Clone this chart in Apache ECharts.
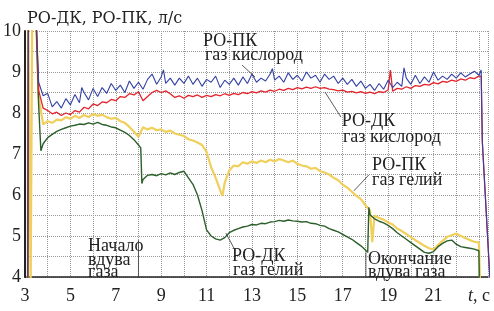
<!DOCTYPE html>
<html>
<head>
<meta charset="utf-8">
<script src="https://cdn.jsdelivr.net/npm/echarts@6/dist/echarts.min.js"></script>
</head>
<body style="margin:0">
<div id="chart" style="width:494px;height:311px"></div>
<script>
// sampling of the traces: every 0.2 s starting at 3.6 s
var t0 = 3.6, dt = 0.2;

// РО-ПК, газ кислород (blue)
var pkO2 = [
  8.75, 8.42, 8.48, 8.15, 8.28,
  8.12, 8.35, 8.2, 8.45, 8.25,
  8.5, 8.32, 8.6, 8.4, 8.62,
  8.48, 8.72, 8.55, 8.68, 8.5,
  8.78, 8.6, 8.75, 8.58, 8.82,
  8.95, 8.7, 8.88, 8.72, 8.85,
  8.68, 8.85, 8.72, 8.9, 8.7,
  8.85, 8.65, 8.82, 8.75, 8.9,
  8.62, 8.8, 8.7, 8.85, 8.68,
  8.88, 8.72, 8.95, 8.75, 8.85,
  8.78, 8.95, 8.8, 8.9, 8.75,
  8.98, 8.82, 8.92, 8.78, 9.0,
  8.85, 8.92, 8.75, 8.95, 8.82,
  8.9, 8.72, 8.85, 8.7, 8.82,
  8.65, 8.78, 8.6, 8.7, 8.55,
  8.72, 8.58, 8.8, 8.62, 8.75,
  8.65, 8.85, 8.7, 8.92, 8.72,
  8.88, 8.75, 9.0, 8.8, 8.9,
  8.82, 8.95, 8.85, 8.98, 8.88,
  8.95, 9.02, 8.92
];
var pkO2Extra = [[3.12, 3.8], [3.15, 10.6], [3.47, 10.6], [5.5, 8.62], [9.1, 9.05],
  [13.9, 9.08], [19.7, 9.1], [23.1, 9.05], [23.15, 7.3], [23.5, 3.8]];

// РО-ДК, газ кислород (red)
var dkO2 = [
  8.55, 8.12, 8.06, 7.98, 8.02,
  7.94, 8.0, 7.96, 8.06, 8.02,
  8.14, 8.1, 8.22, 8.18, 8.27,
  8.25, 8.33, 8.3, 8.4, 8.38,
  8.47, 8.44, 8.52, 8.3, 8.4,
  8.5, 8.55, 8.5, 8.54, 8.47,
  8.38, 8.42, 8.36, 8.43, 8.4,
  8.44, 8.38, 8.43, 8.4, 8.45,
  8.42, 8.47, 8.43, 8.48, 8.45,
  8.5, 8.47, 8.52, 8.49, 8.54,
  8.51, 8.56, 8.53, 8.58, 8.55,
  8.6, 8.57, 8.62, 8.59, 8.63,
  8.6, 8.64, 8.6, 8.62, 8.58,
  8.57, 8.54, 8.56, 8.51, 8.53,
  8.49, 8.52, 8.48, 8.51, 8.47,
  8.52, 8.5, 8.56, 8.53, 8.6,
  8.58, 8.64, 8.6, 8.67, 8.65,
  8.7, 8.68, 8.74, 8.71, 8.77,
  8.75, 8.8, 8.77, 8.83, 8.8,
  8.86, 8.84, 8.9
];
var dkO2Extra = [[3.12, 3.8], [3.15, 10.6], [3.47, 10.6], [19.1, 9.05], [23.1, 8.9], [23.15, 7.3], [23.5, 3.8]];

// РО-ПК, газ гелий (yellow)
var pkHe = [
  8.4, 7.72, 7.8, 7.76, 7.84,
  7.82, 7.9, 7.86, 7.93, 7.88,
  7.95, 7.9, 7.98, 7.93, 7.96,
  7.9, 7.86, 7.88, 7.8, 7.76,
  7.66, 7.55, 7.42, 7.65, 7.6,
  7.64, 7.58, 7.6, 7.54, 7.57,
  7.5, 7.47, 7.44, 7.36, 7.33,
  7.28, 7.22, 7.05, 6.68, 6.42,
  6.12, 6.3, 6.6, 6.72, 6.7,
  6.8, 6.76, 6.82, 6.78, 6.84,
  6.8, 6.86, 6.82, 6.88, 6.84,
  6.8, 6.84, 6.76, 6.72, 6.7,
  6.64, 6.66, 6.58, 6.55, 6.5,
  6.42, 6.36, 6.25, 6.18, 6.08,
  5.98, 5.9, 5.75, 5.62, 5.5,
  5.44, 5.4, 5.33, 5.28, 5.18,
  5.12, 5.05, 4.97, 4.9, 4.83,
  4.76, 4.7, 4.67, 4.78, 4.88,
  4.98, 5.02, 5.06, 5.0, 4.95,
  4.9, 4.86, 4.84
];
var pkHeExtra = [[3.12, 3.8], [3.14, 10.6], [3.25, 3.8], [3.32, 10.6], [3.47, 10.6],
  [11.7, 5.98], [18.3, 4.85], [23.05, 3.8]];

// РО-ДК, газ гелий (green)
var dkHe = [
  8.2, 7.25, 7.4, 7.48, 7.55,
  7.6, 7.64, 7.68, 7.7, 7.73,
  7.72, 7.76, 7.73, 7.77, 7.72,
  7.7, 7.66, 7.64, 7.58, 7.53,
  7.45, 7.35, 7.22, 6.38, 6.48,
  6.5, 6.47, 6.52, 6.49, 6.54,
  6.5, 6.55, 6.58, 6.42, 6.26,
  6.0, 5.62, 5.15, 5.0, 4.93,
  4.9, 4.96, 5.08, 5.14, 5.18,
  5.22, 5.24, 5.28, 5.27, 5.31,
  5.3, 5.34, 5.35, 5.38, 5.36,
  5.39, 5.37, 5.36, 5.34, 5.35,
  5.31, 5.3, 5.26, 5.24, 5.18,
  5.14, 5.1, 5.04, 4.98, 4.92,
  4.84, 4.76, 4.66, 5.52, 5.42,
  5.36, 5.32, 5.26, 5.18, 5.08,
  5.0, 4.92, 4.84, 4.76, 4.68,
  4.6, 4.58, 4.62, 4.74, 4.82,
  4.88, 4.9, 4.8, 4.74, 4.72,
  4.7, 4.68, 4.64
];
var dkHeExtra = [[3.12, 3.8], [3.15, 10.6], [3.47, 10.6], [3.7, 7.08],
  [8.1, 7.15], [8.15, 6.28], [18.1, 4.6], [18.15, 5.7], [23.02, 3.8]];

// axis ticks
var yLabels = [4, 5, 6, 7, 8, 9, 10];
var xLabels = [3, 5, 7, 9, 11, 13, 15, 17, 19, 21];

// annotations [t, value, text]
var notes = [
  [10.84, 9.76, 'РО-ПК'], [10.93, 9.41, 'газ кислород'],
  [16.96, 7.80, 'РО-ДК'], [17.01, 7.41, 'газ кислород'],
  [18.29, 6.73, 'РО-ПК'], [18.29, 6.37, 'газ гелий'],
  [12.12, 4.51, 'РО-ДК'], [12.16, 4.17, 'газ гелий'],
  [5.78, 4.76, 'Начало'], [5.78, 4.41, 'вдува'], [5.78, 4.12, 'газа'],
  [18.11, 4.44, 'Окончание'], [18.11, 4.12, 'вдува газа']
];
var leaders = [
  [[12.56, 9.17], [13.13, 8.88]],
  [[16.22, 8.51], [16.92, 7.90]],
  [[17.49, 6.10], [18.15, 6.49]],
  [[11.85, 5.07], [12.25, 4.66]],
  [[8.0, 3.97], [8.0, 4.9]],
  [[18.02, 4.0], [18.02, 4.6]]
];

function build(vals, extra) {
  var pts = vals.map(function (v, i) { return [+(t0 + i * dt).toFixed(2), v]; });
  return pts.concat(extra).sort(function (a, b) { return a[0] - b[0]; });
}

var serif = 'Liberation Serif';
var chart = echarts.init(document.getElementById('chart'));

var series = [
  { type: 'line', data: build(pkHe, pkHeExtra), symbol: 'none',
    lineStyle: { color: '#f0cf5a', width: 2.2 } },
  { type: 'line', data: build(dkHe, dkHeExtra), symbol: 'none',
    lineStyle: { color: '#2c5f2a', width: 1.4 } },
  { type: 'line', data: build(dkO2, dkO2Extra), symbol: 'none',
    lineStyle: { color: '#e3232b', width: 1.3 } },
  { type: 'line', data: build(pkO2, pkO2Extra), symbol: 'none',
    lineStyle: { color: '#3341a3', width: 1.1 } }
];

leaders.forEach(function (l) {
  series.push({ type: 'line', data: l, symbol: 'none', silent: true,
    lineStyle: { color: '#333', width: 0.8 } });
});

var option = {
  animation: false,
  title: {
    text: 'РО-ДК, РО-ПК, л/с', left: 22, top: 6,
    textStyle: { fontFamily: 'DejaVu Serif', fontSize: 16, fontWeight: 'normal', color: '#222' }
  },
  grid: { left: 25, right: 6, top: 31, bottom: 34 },
  xAxis: {
    type: 'value', min: 3, max: 23.4, interval: 1,
    axisLine: { lineStyle: { color: '#222', width: 1.5 } },
    axisTick: { show: false },
    splitLine: { show: true, lineStyle: { color: '#999', type: 'dotted', width: 1 } },
    axisLabel: {
      margin: 10, fontFamily: serif, fontSize: 18, color: '#222',
      formatter: function (v) {
        if (v === 23) return '{i|t}, c';
        return xLabels.indexOf(v) >= 0 ? String(v) : '';
      },
      rich: { i: { fontFamily: serif, fontSize: 18, fontStyle: 'italic', color: '#222' } }
    }
  },
  yAxis: {
    type: 'value', min: 4, max: 10, interval: 0.5,
    axisLine: { show: true, lineStyle: { color: '#222', width: 2 } },
    axisTick: { show: false },
    splitLine: { show: true, lineStyle: { color: '#999', type: 'dotted', width: 1 } },
    axisLabel: {
      margin: 4, fontFamily: serif, fontSize: 18, color: '#222',
      formatter: function (v) { return yLabels.indexOf(v) >= 0 ? String(v) : ''; }
    }
  },
  series: series
};

chart.setOption(option);

// annotation texts placed through the axes' scales
chart.setOption({
  graphic: notes.map(function (n) {
    var p = chart.convertToPixel({ gridIndex: 0 }, [n[0], n[1]]);
    return { type: 'text', x: p[0], y: p[1], silent: true,
      style: { text: n[2], font: '18px "Liberation Serif"', fill: '#222', verticalAlign: 'middle' } };
  })
});
</script>
</body>
</html>
